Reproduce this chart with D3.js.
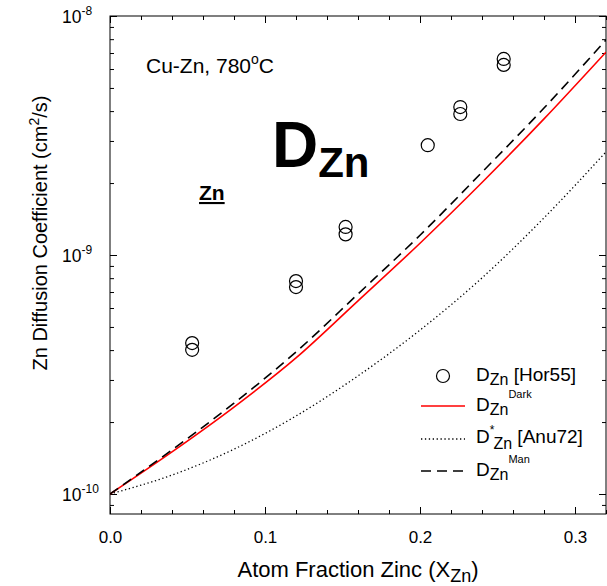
<!DOCTYPE html>
<html>
<head>
<meta charset="utf-8">
<script src="https://d3js.org/d3.v7.min.js"></script>
<style>
  body { margin: 0; background: #fff; }
  text { font-family: Arial, "Liberation Sans", sans-serif; fill: #000; }
</style>
</head>
<body>
<svg width="607" height="586"></svg>
<script>
  // measured points [Hor55]
  var hor55X = [0.053, 0.053, 0.12, 0.12, 0.152, 0.152, 0.205, 0.226, 0.226, 0.254, 0.254];
  var hor55D = [4.28e-10, 4.01e-10, 7.78e-10, 7.34e-10, 1.31e-9, 1.22e-9, 2.88e-9, 4.16e-9, 3.89e-9, 6.61e-9, 6.24e-9];

  // curves
  var curveX = [0, 0.04, 0.08, 0.12, 0.16, 0.2, 0.24, 0.28, 0.32];
  var darkD = [1.0e-10, 1.50e-10, 2.31e-10, 3.71e-10, 6.43e-10, 1.12e-9, 2.01e-9, 3.71e-9, 7.06e-9];
  var manD = [1.0e-10, 1.53e-10, 2.40e-10, 3.93e-10, 6.87e-10, 1.21e-9, 2.22e-9, 4.12e-9, 7.94e-9];
  var anuD = [1.0e-10, 1.20e-10, 1.54e-10, 2.12e-10, 3.12e-10, 4.85e-10, 8.02e-10, 1.43e-9, 2.70e-9];

  var xTicks = [0, 0.1, 0.2, 0.3];
  var xTickLabels = ["0.0", "0.1", "0.2", "0.3"];
  var yTicks = [1e-10, 1e-9, 1e-8];
  var yTickExp = ["-10", "-9", "-8"];

  var svg = d3.select("svg"),
    margin = { top: 16, right: 1, bottom: 72, left: 110 },
    width = +svg.attr("width") - margin.left - margin.right,
    height = +svg.attr("height") - margin.top - margin.bottom,
    g = svg.append("g")
      .attr("transform", "translate(" + margin.left + "," + margin.top + ")");

  var yMin = Math.pow(10, -10 - 20 / 239);
  var x = d3.scaleLinear().domain([0, 0.32]).range([0, width]);
  var y = d3.scaleLog().domain([yMin, 1e-8]).range([height, 0]);

  // minor ticks
  var xMinor = d3.range(0, 0.3201, 0.02);
  var yMinor = [];
  [-11, -10, -9].forEach(function (e) {
    for (var m = 2; m <= 9; m++) {
      var v = m * Math.pow(10, e);
      if (v > yMin && v < 1e-8) yMinor.push(v);
    }
  });

  function tickStyle(sel) {
    sel.select(".domain").remove();
    sel.selectAll("line").attr("stroke", "#000").attr("stroke-width", 1);
  }

  // bottom
  g.append("g").attr("transform", "translate(0," + height + ")")
    .call(d3.axisBottom(x).tickValues(xMinor).tickSizeInner(-4).tickSizeOuter(0).tickFormat(""))
    .call(tickStyle);
  g.append("g").attr("transform", "translate(0," + height + ")")
    .call(d3.axisBottom(x).tickValues(xTicks).tickSizeInner(-7).tickSizeOuter(0)
      .tickPadding(17).tickFormat(function (d, i) { return xTickLabels[i]; }))
    .call(tickStyle)
    .selectAll("text").style("font-size", "17px").attr("font-family", "Arial, 'Liberation Sans', sans-serif");
  // top
  g.append("g")
    .call(d3.axisTop(x).tickValues(xMinor).tickSizeInner(-4).tickSizeOuter(0).tickFormat(""))
    .call(tickStyle);
  g.append("g")
    .call(d3.axisTop(x).tickValues(xTicks).tickSizeInner(-7).tickSizeOuter(0).tickFormat(""))
    .call(tickStyle);
  // left
  g.append("g")
    .call(d3.axisLeft(y).tickValues(yMinor).tickSizeInner(-4).tickSizeOuter(0).tickFormat(""))
    .call(tickStyle);
  g.append("g")
    .call(d3.axisLeft(y).tickValues(yTicks).tickSizeInner(-7).tickSizeOuter(0).tickFormat(""))
    .call(tickStyle);
  // right
  g.append("g").attr("transform", "translate(" + width + ",0)")
    .call(d3.axisRight(y).tickValues(yMinor).tickSizeInner(-4).tickSizeOuter(0).tickFormat(""))
    .call(tickStyle);
  g.append("g").attr("transform", "translate(" + width + ",0)")
    .call(d3.axisRight(y).tickValues(yTicks).tickSizeInner(-7).tickSizeOuter(0).tickFormat(""))
    .call(tickStyle);

  // y tick labels 10^n
  yTicks.forEach(function (v, i) {
    var t = g.append("text")
      .attr("x", -48)
      .attr("y", y(v) + 7)
      .style("font-size", "17.5px");
    t.append("tspan").text("10");
    t.append("tspan").attr("dy", -8).style("font-size", "12px").text(yTickExp[i]);
  });

  // frame
  g.append("rect")
    .attr("width", width).attr("height", height)
    .attr("fill", "none").attr("stroke", "#000").attr("stroke-width", 1);

  // curves
  var line = d3.line()
    .curve(d3.curveMonotoneX)
    .x(function (d) { return x(d[0]); })
    .y(function (d) { return y(d[1]); });

  g.append("clipPath").attr("id", "clip")
    .append("rect").attr("width", width).attr("height", height);
  var plot = g.append("g").attr("clip-path", "url(#clip)");

  plot.append("path")
    .attr("d", line(d3.zip(curveX, anuD)))
    .attr("fill", "none").attr("stroke", "#000").attr("stroke-width", 1.3)
    .attr("stroke-dasharray", "1.3,2.6");
  plot.append("path")
    .attr("d", line(d3.zip(curveX, darkD)))
    .attr("fill", "none").attr("stroke", "#ff0000").attr("stroke-width", 1.6);
  plot.append("path")
    .attr("d", line(d3.zip(curveX, manD)))
    .attr("fill", "none").attr("stroke", "#000").attr("stroke-width", 1.6)
    .attr("stroke-dasharray", "10,6");

  plot.selectAll(".pt")
    .data(d3.zip(hor55X, hor55D))
    .enter().append("circle")
    .attr("class", "pt")
    .attr("cx", function (d) { return x(d[0]); })
    .attr("cy", function (d) { return y(d[1]); })
    .attr("r", 6.5)
    .attr("fill", "none").attr("stroke", "#000").attr("stroke-width", 1.2);

  // annotations
  var t1 = svg.append("text").attr("x", 146).attr("y", 73).style("font-size", "21px");
  t1.append("tspan").text("Cu-Zn, 780");
  t1.append("tspan").attr("dy", -9).style("font-size", "14px").text("o");
  t1.append("tspan").attr("dy", 9).text("C");

  var t2 = svg.append("text").attr("x", 272).attr("y", 167)
    .style("font-size", "64px").style("font-weight", "bold");
  t2.append("tspan").text("D");
  t2.append("tspan").attr("dy", 10).style("font-size", "42px").text("Zn");

  svg.append("text").attr("x", 199).attr("y", 200)
    .style("font-size", "21px").style("font-weight", "bold")
    .style("text-decoration", "underline").text("Zn");

  // axis titles
  var xt = svg.append("text")
    .attr("x", margin.left + width / 2).attr("y", 577)
    .attr("text-anchor", "middle").style("font-size", "22px");
  xt.append("tspan").text("Atom Fraction Zinc (X");
  xt.append("tspan").attr("dy", 5).style("font-size", "18px").text("Zn");
  xt.append("tspan").attr("dy", -5).text(")");

  var yt = svg.append("text")
    .attr("transform", "translate(47,233) rotate(-90)")
    .attr("text-anchor", "middle").style("font-size", "20px");
  yt.append("tspan").text("Zn Diffusion Coefficient (cm");
  yt.append("tspan").attr("dy", -8).style("font-size", "14px").text("2");
  yt.append("tspan").attr("dy", 8).text("/s)");

  // legend
  var leg = svg.append("g");
  leg.append("circle").attr("cx", 443).attr("cy", 376).attr("r", 6.5)
    .attr("fill", "none").attr("stroke", "#000").attr("stroke-width", 1.2);
  leg.append("line").attr("x1", 421).attr("x2", 465).attr("y1", 406).attr("y2", 406)
    .attr("stroke", "#ff0000").attr("stroke-width", 1.6);
  leg.append("line").attr("x1", 421).attr("x2", 465).attr("y1", 439).attr("y2", 439)
    .attr("stroke", "#000").attr("stroke-width", 1.3).attr("stroke-dasharray", "1.3,2.6");
  leg.append("line").attr("x1", 421).attr("x2", 465).attr("y1", 471).attr("y2", 471)
    .attr("stroke", "#000").attr("stroke-width", 1.6).attr("stroke-dasharray", "10,6");

  var l1 = leg.append("text").attr("x", 476).attr("y", 381).style("font-size", "19px");
  l1.append("tspan").text("D");
  l1.append("tspan").attr("dy", 4).style("font-size", "16px").text("Zn");
  l1.append("tspan").attr("dy", -4).text(" [Hor55]");

  var l2 = leg.append("text").attr("x", 476).attr("y", 411).style("font-size", "19px");
  l2.append("tspan").text("D");
  l2.append("tspan").attr("dy", 4).style("font-size", "16px").text("Zn");
  l2.append("tspan").attr("dy", -17).style("font-size", "11px").text("Dark");

  var l3 = leg.append("text").attr("x", 476).attr("y", 443).style("font-size", "19px");
  l3.append("tspan").text("D");
  l3.append("tspan").attr("dy", -9).style("font-size", "12px").text("*");
  l3.append("tspan").attr("dy", 15).attr("dx", -1).style("font-size", "16px").text("Zn");
  l3.append("tspan").attr("dy", -6).text(" [Anu72]");

  var l4 = leg.append("text").attr("x", 476).attr("y", 476).style("font-size", "19px");
  l4.append("tspan").text("D");
  l4.append("tspan").attr("dy", 4).style("font-size", "16px").text("Zn");
  l4.append("tspan").attr("dy", -17).style("font-size", "11px").text("Man");
</script>
</body>
</html>
